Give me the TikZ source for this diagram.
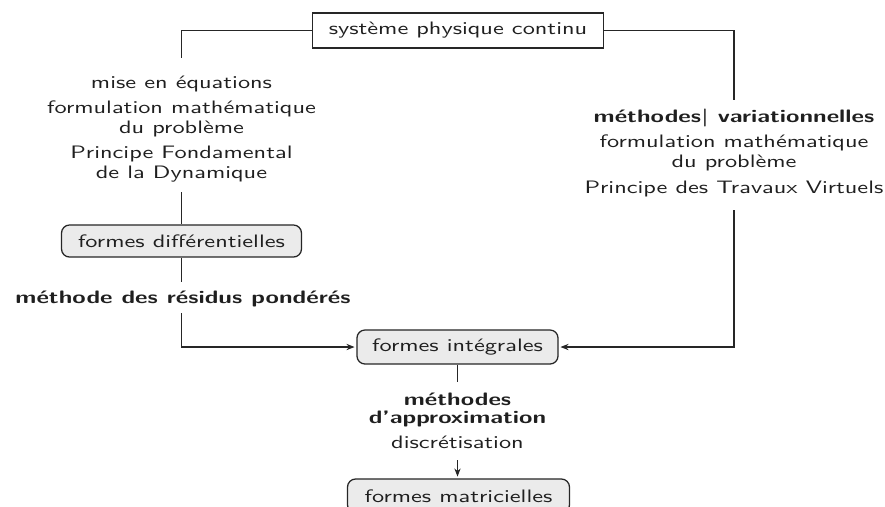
\documentclass[tikz,border=0pt]{standalone}
\usepackage{graphicx}
\usetikzlibrary{arrows.meta}
\renewcommand\familydefault{\sfdefault}
\newcommand\sx[1]{\scalebox{1.35}[1]{#1}}
\begin{document}
\begin{tikzpicture}[x=0.555pt,y=-0.555pt,
  lbl/.style={anchor=base, inner sep=0pt, font=\sffamily, text=black!88},
  blbl/.style={lbl, font=\sffamily\bfseries},
  sysbox/.style={draw=black!85, line width=0.6pt, inner sep=0pt, font=\sffamily, text=black!88},
  formbox/.style={draw=black!85, line width=0.7pt, fill=black!8, rounded corners=4.5pt, inner sep=0pt, font=\sffamily, text=black!88},
  conn/.style={draw=black!85, line width=0.6pt},
  arr/.style={conn, -{Stealth[length=4.5pt,width=3.5pt]}, shorten >=1pt}]
\useasboundingbox (0,0) rectangle (885,506);

% boxes
\node[sysbox, minimum width=161pt, minimum height=19.4pt] (sys) at (458,30.5) {\sx{système physique continu}};
\node[formbox, minimum width=133.2pt, minimum height=17.8pt] (fd) at (181.5,241) {\sx{formes différentielles}};
\node[formbox, minimum width=111.6pt, minimum height=18.9pt] (fi) at (457.5,347) {\sx{formes intégrales}};
\node[formbox, minimum width=123.2pt, minimum height=18.9pt] (fm) at (458.5,496) {\sx{formes matricielles}};

% left labels
\node[lbl] (l1) at (181.5,88) {\sx{mise en équations}};
\node[lbl] (l2) at (181.5,113.5) {\sx{formulation mathématique}};
\node[lbl] (l3) at (181.5,133) {\sx{du problème}};
\node[lbl] (l4) at (181.5,158) {\sx{Principe Fondamental}};
\node[lbl] (l5) at (181.5,178) {\sx{de la Dynamique}};
\node[blbl] (l6) at (183,303) {\sx{méthode des résidus pondérés}};

% right labels
\node[blbl] (r1) at (734,122) {\sx{méthodes\textbar\ variationnelles}};
\node[lbl] (r2) at (734,147) {\sx{formulation mathématique}};
\node[lbl] (r3) at (734,167) {\sx{du problème}};
\node[lbl] (r4) at (734,193) {\sx{Principe des Travaux Virtuels}};

% bottom labels
\node[blbl] (b1) at (457.5,405) {\sx{méthodes}};
\node[blbl] (b2) at (457.5,423) {\sx{d'approximation}};
\node[lbl] (b3) at (457.5,448) {\sx{discrétisation}};

% coordinates
\coordinate (l0) at (181.5,58);
\coordinate (l0b) at (181.5,192);
\coordinate (l2a) at (181.5,282);
\coordinate (l3a) at (181.5,313);
\coordinate (r0) at (734,100);
\coordinate (r5) at (734,210);
\coordinate (b0) at (457.5,382);
\coordinate (b4) at (457.5,460);

% connectors
\draw[conn] (sys.west) -| (l0);
\draw[conn] (l0b) -- (fd.north);
\draw[conn] (fd.south) -- (l2a);
\draw[arr] (l3a) |- (fi.west);
\draw[conn] (sys.east) -| (r0);
\draw[arr] (r5) |- (fi.east);
\draw[conn] (fi.south) -- (b0);
\draw[arr] (b4) -- (b4 |- fm.north);
\end{tikzpicture}
\end{document}
